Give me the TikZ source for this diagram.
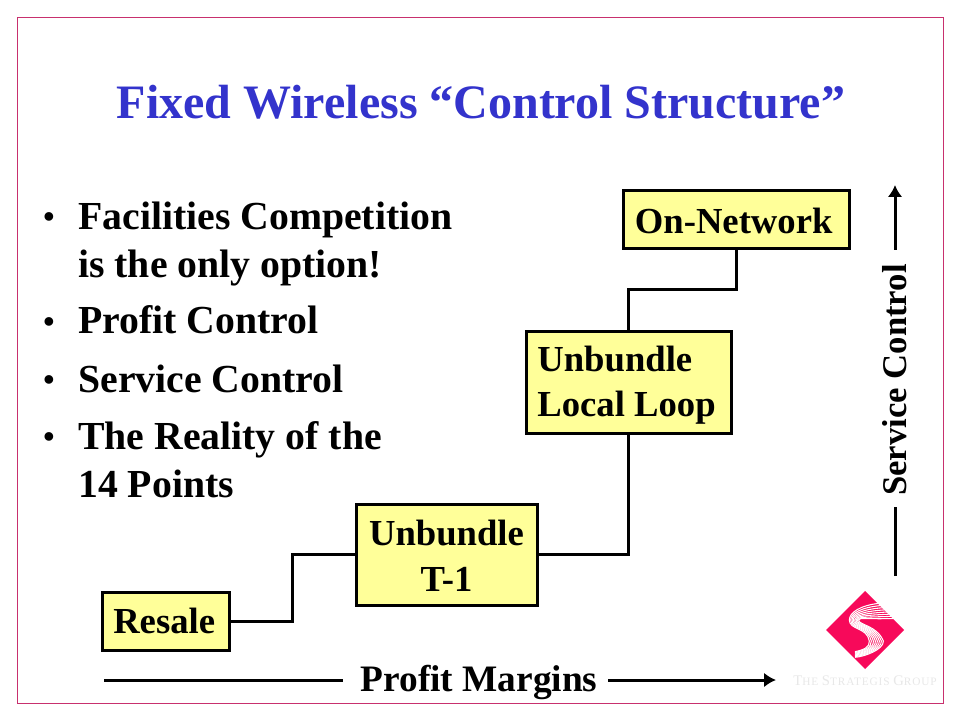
\documentclass[tikz,border=0pt]{standalone}
\usepackage{fontspec}
\setmainfont{Liberation Serif}
\newfontfamily\spacedE[LetterSpace=7.5]{Liberation Serif}
\usetikzlibrary{arrows.meta}
\definecolor{boxfill}{HTML}{FFFF99}
\definecolor{frameC}{HTML}{C8306E}
\definecolor{titleC}{HTML}{3333CC}
\definecolor{logoC}{HTML}{F7095A}
\newcommand\lift[1]{\rule{0pt}{#1}}
\tikzset{
  box/.style={draw=black,line width=2.25pt,fill=boxfill,inner sep=0pt,font=\fontsize{27.5}{34}\selectfont\bfseries},
  wire/.style={draw=black,line width=2.25pt},
  axis/.style={draw=black,line width=2.25pt},
  axishead/.style={-{Latex[length=9pt,width=11pt]}},
  bodytext/.style={anchor=base west,inner sep=0pt,font=\fontsize{29.8}{30}\selectfont\bfseries},
  bul/.style={anchor=base,inner sep=0pt,font=\fontsize{24}{30}\selectfont\bfseries},
}
\begin{document}
\begin{tikzpicture}[x=0.75pt,y=-0.75pt]
\useasboundingbox (0,0) rectangle (960,720);
\fill[white] (0,0) rectangle (960,720);
\draw[frameC,line width=1pt] (17.5,17.5) rectangle (943.5,703.5);
\node[anchor=base,inner sep=0pt,text=titleC,font=\fontsize{36}{40}\selectfont\bfseries] (title) at (481,119) {Fixed Wireless “Control Structure”};

\node[bul] (b1) at (49,228) {•};
\node[bodytext] (t1) at (78,230) {Facilities Competition};
\node[bodytext] (t1b) at (78,278) {is the only option!};
\node[bul] (b2) at (49,332) {•};
\node[bodytext] (t2) at (78,334) {Profit Control};
\node[bul] (b3) at (49,390) {•};
\node[bodytext] (t3) at (78,392) {Service Control};
\node[bul] (b4) at (49,447) {•};
\node[bodytext] (t4) at (78,449) {The Reality of the};
\node[bodytext] (t4b) at (78,497) {14 Points};

\node[box,minimum width=95.25pt,minimum height=43.5pt] (resale) at (165.5,621) {\lift{19.7pt}Resale\hspace*{2pt}};
\node[box,minimum width=135.75pt,minimum height=75.75pt,align=center] (t1box) at (446.5,554.5) {\lift{21pt}Unbundle\\T-1};
\node[box,minimum width=153.75pt,minimum height=76.5pt,align=left] (loop) at (628.5,382) {\lift{23.5pt}Unbundle\\Local Loop\hspace*{3pt}};
\node[box,minimum width=169.5pt,minimum height=43.5pt] (net) at (736,220) {\lift{21.2pt}On-Network\hspace*{3.5pt}};

\coordinate (c1) at (292,587);
\coordinate (c3) at (628.5,290);
\draw[wire] (resale.east) -| (c1) |- (t1box.west);
\draw[wire] (t1box.east) -| (loop.south);
\draw[wire] (net.south) |- (c3) -- (loop.north);

\node[inner sep=0pt,font=\fontsize{28}{30}\selectfont\bfseries] (pm) at (479,682) {Profit Margins};
\coordinate (pmL) at (104,680);
\coordinate (pmA) at (343,680);
\coordinate (pmB) at (608,680);
\coordinate (pmR) at (776,680);
\draw[axis] (pmL) -- (pmA);
\draw[axis,axishead] (pmB) -- (pmR);

\node[inner sep=0pt,rotate=90,font=\fontsize{26}{30}\selectfont\bfseries] (sc) at (895,380) {Service Control};
\coordinate (scB) at (895,576);
\coordinate (scC) at (895,507);
\coordinate (scD) at (895,250);
\coordinate (scT) at (895,185);
\draw[axis] (scB) -- (scC);
\draw[axis,axishead] (scD) -- (scT);

\fill[logoC] (865,591) -- (904,630) -- (865,669) -- (826,630) -- cycle;
\begin{scope}[shift={(780,570)},x=0.25pt,y=-0.25pt]
\foreach \i in {0,...,7}{
  \draw[white,line width=0.8pt]
   (298+6*\i,100+6.5*\i) .. controls (240+3*\i,106+6*\i) and (208+4*\i,128+2*\i) .. (208+4*\i,150)
   .. controls (208+4*\i,180-2*\i) and (262+4*\i,172-\i) .. (268+6*\i,213)
   .. controls (270+6*\i,232+\i) and (250,240+3*\i) .. (225,245+2.4*\i);
}
\end{scope}
\node[inner sep=0pt,text=black!9,font=\spacedE\fontsize{11}{12}\selectfont] (logotext) at (865,681) {T\fontsize{8.5}{10}\selectfont HE \fontsize{11}{12}\selectfont S\fontsize{8.5}{10}\selectfont TRATEGIS \fontsize{11}{12}\selectfont G\fontsize{8.5}{10}\selectfont ROUP};
\end{tikzpicture}
\end{document}
